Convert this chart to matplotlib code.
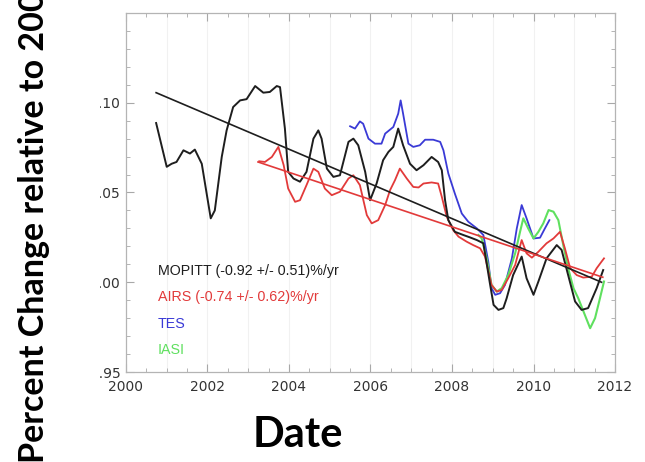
import matplotlib
matplotlib.use("Agg")
import matplotlib.pyplot as plt
from matplotlib.patches import Rectangle
from matplotlib.ticker import MultipleLocator

# MOPITT monthly anomaly (ratio to 2000 level)
mopitt_t = [2000.74, 2001.00, 2001.12, 2001.24, 2001.41, 2001.57, 2001.69, 2001.86, 2001.98,
            2002.08, 2002.18, 2002.35, 2002.47, 2002.63, 2002.80, 2002.96, 2003.17, 2003.37,
            2003.53, 2003.70, 2003.78, 2003.90, 2003.98, 2004.11, 2004.27, 2004.43, 2004.60,
            2004.72, 2004.80, 2004.93, 2005.09, 2005.25, 2005.46, 2005.58, 2005.70, 2005.87,
            2005.99, 2006.15, 2006.31, 2006.44, 2006.56, 2006.68, 2006.80, 2006.97, 2007.13,
            2007.30, 2007.50, 2007.66, 2007.75, 2007.83, 2007.91, 2008.07, 2008.28, 2008.44,
            2008.61, 2008.77, 2008.85, 2008.93, 2009.02, 2009.14, 2009.26, 2009.34, 2009.50,
            2009.71, 2009.83, 2010.00, 2010.12, 2010.32, 2010.57, 2010.69, 2010.85, 2011.02,
            2011.18, 2011.34, 2011.55, 2011.71]
mopitt_v = [1.0887, 1.0643, 1.0660, 1.0670, 1.0735, 1.0717, 1.0739, 1.0660, 1.0494,
            1.0356, 1.0400, 1.0698, 1.0846, 1.0976, 1.1013, 1.1020, 1.1093, 1.1056,
            1.1060, 1.1093, 1.1087, 1.0856, 1.0615, 1.0578, 1.0560, 1.0615, 1.0800,
            1.0846, 1.0800, 1.0633, 1.0587, 1.0596, 1.0782, 1.0800, 1.0763, 1.0615,
            1.0457, 1.0550, 1.0680, 1.0726, 1.0754, 1.0856, 1.0763, 1.0660, 1.0624,
            1.0652, 1.0698, 1.0670, 1.0624, 1.0457, 1.0346, 1.0281, 1.0263, 1.0250,
            1.0235, 1.0217, 1.0106, 0.9994, 0.9874, 0.9846, 0.9856, 0.9910, 1.0040,
            1.0143, 1.0022, 0.9930, 1.0004, 1.0133, 1.0207, 1.0180, 1.0040, 0.9893,
            0.9846, 0.9856, 0.9967, 1.0068]

airs_t = [2003.27, 2003.41, 2003.58, 2003.74, 2003.87, 2003.98, 2004.15, 2004.27, 2004.43,
          2004.60, 2004.72, 2004.88, 2005.05, 2005.25, 2005.46, 2005.58, 2005.74, 2005.91,
          2006.03, 2006.19, 2006.36, 2006.48, 2006.60, 2006.72, 2006.89, 2007.05, 2007.18,
          2007.30, 2007.50, 2007.66, 2007.75, 2007.87, 2008.03, 2008.16, 2008.36, 2008.52,
          2008.69, 2008.81, 2008.97, 2009.10, 2009.22, 2009.38, 2009.55, 2009.71, 2009.83,
          2009.96, 2010.12, 2010.32, 2010.49, 2010.65, 2010.77, 2010.90, 2011.06, 2011.22,
          2011.43, 2011.55, 2011.67, 2011.73]
airs_v = [1.0674, 1.0670, 1.0698, 1.0754, 1.0652, 1.0522, 1.0448, 1.0457, 1.0541,
          1.0633, 1.0615, 1.0522, 1.0485, 1.0504, 1.0578, 1.0596, 1.0541, 1.0374,
          1.0328, 1.0346, 1.0430, 1.0513, 1.0568, 1.0633, 1.0578, 1.0531, 1.0528,
          1.0550, 1.0556, 1.0550, 1.0476, 1.0365, 1.0290, 1.0254, 1.0226, 1.0207,
          1.0189, 1.0143, 0.9985, 0.9948, 0.9957, 1.0022, 1.0096, 1.0235, 1.0161,
          1.0137, 1.0170, 1.0217, 1.0244, 1.0281, 1.0189, 1.0078, 1.0040, 1.0026,
          1.0031, 1.0078, 1.0115, 1.0133]

tes_t = [2005.50, 2005.62, 2005.74, 2005.82, 2005.95, 2006.11, 2006.27, 2006.36, 2006.56,
         2006.68, 2006.74, 2006.80, 2006.93, 2007.05, 2007.21, 2007.34, 2007.54, 2007.71,
         2007.79, 2007.91, 2008.07, 2008.24, 2008.40, 2008.61, 2008.77, 2008.89, 2008.97,
         2009.06, 2009.18, 2009.30, 2009.47, 2009.59, 2009.71, 2009.83, 2010.00, 2010.16,
         2010.28, 2010.39]
tes_v = [1.0869, 1.0856, 1.0896, 1.0883, 1.0800, 1.0772, 1.0772, 1.0828, 1.0865,
         1.0939, 1.1013, 1.0939, 1.0772, 1.0754, 1.0763, 1.0794, 1.0794, 1.0782,
         1.0735, 1.0606, 1.0494, 1.0383, 1.0337, 1.0300, 1.0263, 1.0115, 0.9967,
         0.9930, 0.9939, 0.9985, 1.0133, 1.0300, 1.0430, 1.0356, 1.0244, 1.0248,
         1.0300, 1.0346]

iasi_t = [2008.65, 2008.73, 2008.85, 2008.97, 2009.10, 2009.22, 2009.38, 2009.55, 2009.67,
          2009.75, 2009.87, 2010.00, 2010.12, 2010.24, 2010.37, 2010.49, 2010.61, 2010.73,
          2010.85, 2010.98, 2011.10, 2011.26, 2011.39, 2011.51, 2011.63, 2011.73]
iasi_v = [1.0263, 1.0244, 1.0133, 0.9985, 0.9948, 0.9967, 1.0040, 1.0161, 1.0281,
          1.0356, 1.0300, 1.0244, 1.0281, 1.0328, 1.0402, 1.0393, 1.0346, 1.0207,
          1.0078, 0.9967, 0.9910, 0.9818, 0.9744, 0.9800, 0.9910, 1.0004]

# linear fits (end points of the fitted lines)
mopitt_fit_t = [2000.74, 2011.67]
mopitt_fit_v = [1.1056, 1.0000]
airs_fit_t = [2003.24, 2011.70]
airs_fit_v = [1.0670, 1.0028]

legend_labels = ["MOPITT (-0.92 +/- 0.51)%/yr", "AIRS (-0.74 +/- 0.62)%/yr", "TES", "IASI"]
year_ticks = [2000, 2002, 2004, 2006, 2008, 2010, 2012]
value_ticks = [0.95, 1.00, 1.05, 1.10]

black = "#1e1e1e"
red = "#e23a3a"
blue = "#3a3ad6"
green = "#5fe05f"

fig = plt.figure(figsize=(6.45, 4.62), dpi=100)
ax = fig.add_axes([0.1953, 0.1948, 0.7582, 0.7771])

for x in range(2001, 2012):
    ax.axvline(x, color="#f1f1f1", lw=0.8, zorder=0)

ax.plot(tes_t, tes_v, color=blue, lw=1.3)
ax.plot(iasi_t, iasi_v, color=green, lw=1.5)
ax.plot(airs_t, airs_v, color=red, lw=1.3)
ax.plot(mopitt_t, mopitt_v, color=black, lw=1.4)
ax.plot(mopitt_fit_t, mopitt_fit_v, color=black, lw=1.2)
ax.plot(airs_fit_t, airs_fit_v, color=red, lw=1.2)

ax.set_xlim(2000, 2012)
ax.set_ylim(0.95, 1.15)
ax.set_xticks(year_ticks)
ax.set_xticklabels([str(y) for y in year_ticks])
ax.set_yticks(value_ticks)
ax.set_yticklabels([f"{v:.2f}" for v in value_ticks])
ax.xaxis.set_minor_locator(MultipleLocator(0.5))
ax.yaxis.set_minor_locator(MultipleLocator(0.01))
ax.tick_params(which="both", direction="in", top=True, right=True,
               color="#a8a8a8", labelcolor="#333333", labelsize=10)
ax.tick_params(which="major", length=6, width=0.8)
ax.tick_params(which="minor", length=3, width=0.6)
ax.tick_params(axis="x", which="major", pad=6)
ax.tick_params(axis="y", which="major", pad=4)
for s in ax.spines.values():
    s.set_color("#b4b4b4")
    s.set_linewidth(0.9)

for i, (lab, col) in enumerate(zip(legend_labels, [black, red, blue, green])):
    ax.text(2000.78, 1.0064 - i * 0.0147, lab, color=col, fontsize=10.3,
            family="Liberation Sans", va="center", ha="left")

# white band over the left edge, then the big axis titles
fig.patches.append(Rectangle((0, 0), 100 / 645, 1, transform=fig.transFigure,
                             facecolor="white", edgecolor="none", zorder=5))
fig.text(34 / 645, -0.003, "Percent Change relative to 2000", rotation=90,
         ha="center", va="bottom", fontsize=24.5, fontweight="bold",
         family="Lato", zorder=6)
fig.text(298 / 645, 15 / 462, "Date", ha="center", va="baseline",
         fontsize=30, fontweight="bold", family="Lato", zorder=6)

fig.savefig("out.png", dpi=100)
